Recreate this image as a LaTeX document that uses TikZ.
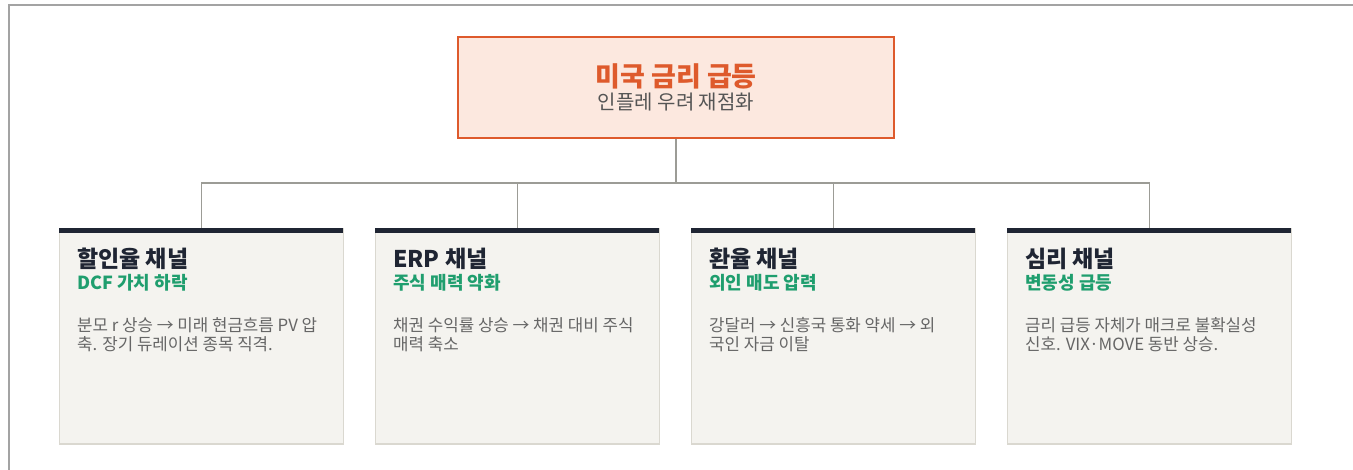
\documentclass[tikz,border=0pt]{standalone}
\usepackage{fontspec}
\setmainfont{Noto Sans CJK KR}
\definecolor{frameg}{HTML}{A3A3A3}
\definecolor{lineg}{HTML}{9C9C96}
\definecolor{orng}{HTML}{DE5A2C}
\definecolor{peach}{HTML}{FCE8DF}
\definecolor{subg}{HTML}{555555}
\definecolor{cardfill}{HTML}{F4F3EF}
\definecolor{cardline}{HTML}{DAD8D0}
\definecolor{navy}{HTML}{1F2533}
\definecolor{grn}{HTML}{1F9E6E}
\definecolor{bodyg}{HTML}{666666}
\begin{document}
\begin{tikzpicture}[x=1pt,y=-1pt,
  topbox/.style={draw=orng,line width=2pt,fill=peach,minimum width=436pt,minimum height=101pt,inner sep=0},
  card/.style={draw=cardline,line width=1.3pt,fill=cardfill,minimum width=284pt,minimum height=215pt,inner sep=0},
  conn/.style={draw=lineg,line width=1.3pt},
  ctitle/.style={anchor=base west,inner sep=0,text=navy,font=\fontsize{23}{26}\selectfont\bfseries},
  csub/.style={anchor=base west,inner sep=0,text=grn,font=\fontsize{18}{21}\selectfont\bfseries},
  cbody/.style={anchor=base west,inner sep=0,text=bodyg,font=\fontsize{16.8}{19}\selectfont}]
\useasboundingbox (0,0) rectangle (1353,470);
\fill[white] (0,0) rectangle (1353,470);
\draw[frameg,line width=2pt] (8.5,470) -- (8.5,5) -- (1353,5);
\node[topbox] (top) at (676,87.5) {};
\node[anchor=base,inner sep=0,text=orng,font=\fontsize{27}{30}\selectfont\bfseries] (toptitle) at (676,87) {미국 금리 급등};
\node[anchor=base,inner sep=0,text=subg,font=\fontsize{20}{24}\selectfont] (topsub) at (676,110) {인플레 우려 재점화};
\coordinate (hub) at (676,183);
\foreach \i/\cx/\ttl/\sub/\la/\lb in {
  1/201.5/{할인율 채널}/{DCF 가치 하락}/{분모 r 상승 → 미래 현금흐름 PV 압}/{축. 장기 듀레이션 종목 직격.},
  2/517.5/{ERP 채널}/{주식 매력 약화}/{채권 수익률 상승 → 채권 대비 주식}/{매력 축소},
  3/833.5/{환율 채널}/{외인 매도 압력}/{강달러 → 신흥국 통화 약세 → 외}/{국인 자금 이탈},
  4/1149.5/{심리 채널}/{변동성 급등}/{금리 급등 자체가 매크로 불확실성}/{신호. VIX·MOVE 동반 상승.}}{
  \node[card] (c\i) at (\cx,336.5) {};
  \fill[navy] (c\i.north west) rectangle ++(284,4.5);
  \draw[conn] (hub) -| (c\i.north);
  \node[ctitle] (t\i) at (\cx-124.5,267.5) {\ttl};
  \node[csub] (s\i) at (\cx-124.5,290) {\sub};
  \node[cbody] (ba\i) at (\cx-124.5,331.5) {\la};
  \node[cbody] (bb\i) at (\cx-124.5,350.5) {\lb};
}
\draw[conn] (top.south) -- (hub);
\end{tikzpicture}
\end{document}
